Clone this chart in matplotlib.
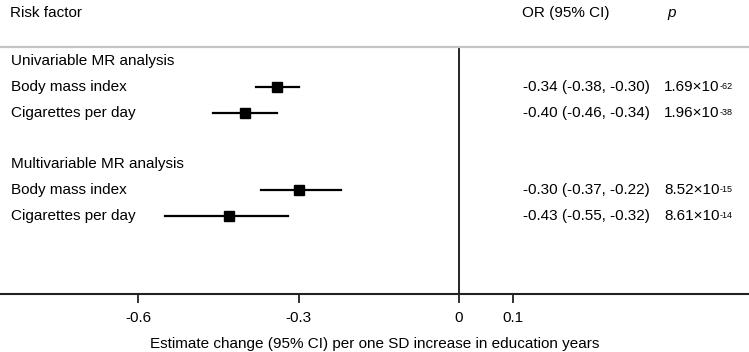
import matplotlib.pyplot as plt

plt.rcParams["font.family"] = ["Liberation Sans", "DejaVu Sans"]
plt.rcParams["axes.unicode_minus"] = False

# data
groups = ["Univariable MR analysis", "Multivariable MR analysis"]
factors = ["Body mass index", "Cigarettes per day"]
estimate = [[-0.34, -0.40], [-0.30, -0.43]]
ci_low = [[-0.38, -0.46], [-0.37, -0.55]]
ci_high = [[-0.30, -0.34], [-0.22, -0.32]]
p_base = [["1.69×10", "1.96×10"], ["8.52×10", "8.61×10"]]
p_exp = [["-62", "-38"], ["-15", "-14"]]
ticks = [-0.6, -0.3, 0, 0.1]
tick_labels = ["-0.6", "-0.3", "0", "0.1"]

W, H = 749, 352
FS = 11

# row layout in pixels from the top
group_y = [61, 164]
row_y = [[87, 113], [190, 216]]
axis_y = 294


def fx(px):
    return px / W


def fy(py):
    return 1 - py / H


fig = plt.figure(figsize=(W / 100, H / 100), dpi=100)
ax = fig.add_axes([0, fy(axis_y), 1, 1 - fy(axis_y)])
ax.set_xlim(-459 / 535, 290 / 535)
ax.set_ylim(axis_y, 0)

for side in ["top", "left", "right"]:
    ax.spines[side].set_visible(False)
ax.spines["bottom"].set_linewidth(1.5)
ax.spines["bottom"].set_color("#222222")
ax.set_yticks([])
ax.set_xticks(ticks)
ax.set_xticklabels(tick_labels, fontsize=FS)
ax.tick_params(axis="x", direction="out", length=6.5, width=1.3,
               color="#222222", pad=5.5)
ax.set_xlabel("Estimate change (95% CI) per one SD increase in education years",
              fontsize=FS, labelpad=9)

# reference line at zero and header separator
ax.plot([0, 0], [48, axis_y], color="black", lw=1.2, clip_on=False)
ax.axhline(47, color="#c4c4c4", lw=1.6)

# header
fig.text(fx(10), fy(13), "Risk factor", fontsize=FS, va="center")
fig.text(fx(522), fy(13), "OR (95% CI)", fontsize=FS, va="center")
fig.text(fx(667), fy(13), "p", fontsize=FS, va="center", style="italic")

for g in range(len(groups)):
    fig.text(fx(11), fy(group_y[g]), groups[g], fontsize=FS, va="center")
    for i in range(len(factors)):
        y = row_y[g][i]
        est, lo, hi = estimate[g][i], ci_low[g][i], ci_high[g][i]
        ax.plot([lo, hi], [y, y], color="black", lw=1.6)
        ax.plot(est, y, marker="s", ms=7.5, color="black")
        fig.text(fx(11), fy(y), factors[i], fontsize=FS, va="center")
        fig.text(fx(523), fy(y),
                 f"{est:.2f} ({lo:.2f}, {hi:.2f})",
                 fontsize=FS, va="center")
        t = fig.text(fx(664), fy(y), p_base[g][i], fontsize=FS, va="center")
        ax.annotate(p_exp[g][i], xy=(1.0, 0.88), xycoords=t,
                    fontsize=6.5, va="top", ha="left")

fig.savefig("out.png", dpi=100)
